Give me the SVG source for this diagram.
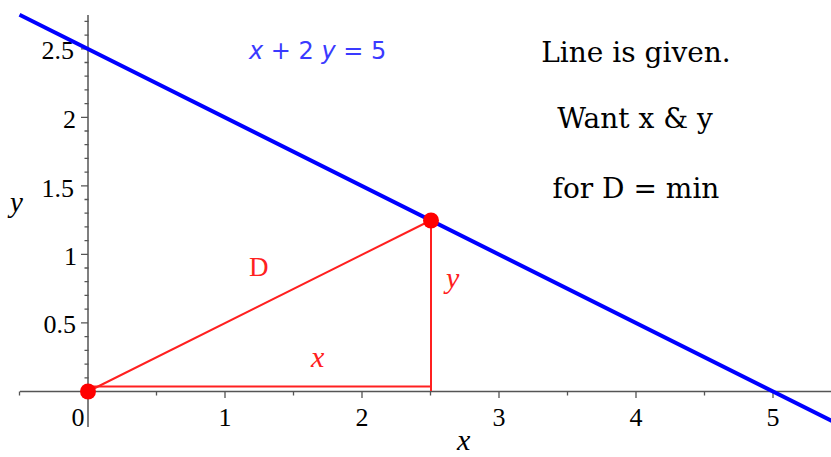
<svg xmlns="http://www.w3.org/2000/svg" width="831" height="457" viewBox="0 0 831 457">
<style>
.axis{stroke:#555;stroke-width:1.5;fill:none}
.tk{stroke:#555;stroke-width:1.3}
.lbl{font-family:"Liberation Serif",serif;font-size:26px;fill:#000}
.ax{font-family:"Liberation Serif",serif;font-style:italic;fill:#000}
.big{font-family:"DejaVu Serif",serif;font-size:28px;fill:#000;text-anchor:middle}
.red{stroke:#ff2020;stroke-width:2;fill:none}
.rt{font-family:"Liberation Serif",serif;font-size:30px;fill:#ff2020}
.it{font-style:italic}
</style>
<rect width="831" height="457" fill="#fff"/>
<g id="axes">
<line class="axis" x1="20" y1="391.5" x2="831" y2="391.5"/>
<line class="axis" x1="88" y1="15" x2="88" y2="427"/>
<g class="tk">
<path d="M19.5 391.5v4M156.5 391.5v4M293.5 391.5v4M430.5 391.5v4M567.5 391.5v4M704.5 391.5v4M225 391.5v6.5M362 391.5v6.5M499 391.5v6.5M636 391.5v6.5M773 391.5v6.5"/>
<path d="M81 391.5h7M81 322.8h7M81 254.3h7M81 185.8h7M81 117.3h7M81 48.8h7"/>
<path d="M84.5 377.8h4M84.5 364.1h4M84.5 350.4h4M84.5 336.7h4M84.5 309.1h4M84.5 295.4h4M84.5 281.7h4M84.5 268h4M84.5 240.6h4M84.5 226.9h4M84.5 213.2h4M84.5 199.5h4M84.5 172.1h4M84.5 158.4h4M84.5 144.7h4M84.5 131h4M84.5 103.6h4M84.5 89.9h4M84.5 76.2h4M84.5 62.5h4M84.5 35.1h4M84.5 21.4h4"/>
</g>
<g class="lbl" text-anchor="middle">
<text x="78" y="426">0</text>
<text x="225" y="426">1</text>
<text x="362" y="426">2</text>
<text x="499" y="426">3</text>
<text x="636" y="426">4</text>
<text x="773" y="426">5</text>
</g>
<g class="lbl" text-anchor="end">
<text x="76" y="333">0.5</text>
<text x="77" y="265">1</text>
<text x="74" y="197">1.5</text>
<text x="76" y="128">2</text>
<text x="74" y="59">2.5</text>
</g>
<text class="ax" x="457" y="450" style="font-size:30px">x</text>
<text class="ax" x="10" y="212" style="font-size:29px">y</text>
</g>
<g id="line">
<line x1="19.5" y1="14.75" x2="841.5" y2="425.75" stroke="#0000ff" stroke-width="4"/>
<text x="249" y="59" font-family="DejaVu Sans,sans-serif" font-size="24" fill="#3a3aff"><tspan font-style="italic">x</tspan> + 2 <tspan font-style="italic">y</tspan> = 5</text>
</g>
<g id="triangle">
<line class="red" x1="88" y1="391.5" x2="430.5" y2="220.5"/>
<line class="red" x1="88" y1="386.5" x2="431" y2="386.5"/>
<line class="red" x1="431" y1="220.5" x2="431" y2="391"/>
<circle cx="88" cy="391.5" r="8" fill="#ff0000"/>
<circle cx="431" cy="220.5" r="8" fill="#ff0000"/>
<text class="rt" x="249" y="276" style="font-size:27px">D</text>
<text class="rt it" x="311" y="367">x</text>
<text class="rt it" x="446" y="288">y</text>
</g>
<g id="note">
<text class="big" x="636" y="62">Line is given.</text>
<text class="big" x="635" y="128">Want x &amp; y</text>
<text class="big" x="636" y="198">for D = min</text>
</g>
</svg>
